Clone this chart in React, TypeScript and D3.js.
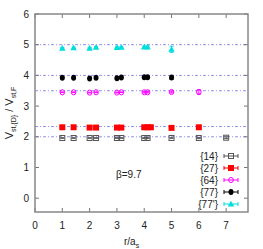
import React from "react";
import * as d3 from "d3";

const xTicks = [0, 1, 2, 3, 4, 5, 6, 7];
const yTicks = [0, 1, 2, 3, 4, 5, 6];
const casimirLines = [2, 7 / 3, 3.5, 4, 5];

const x14 = [1, 1.414, 2, 2.236, 3, 3.162, 4, 4.123, 5, 6, 7];
const y14 = [1.96, 1.96, 1.96, 1.96, 1.96, 1.96, 1.96, 1.96, 1.96, 1.96, 1.97];
const e14 = [0.01, 0.01, 0.01, 0.01, 0.01, 0.01, 0.01, 0.01, 0.01, 0.02, 0.03];

const x27 = [1, 1.414, 2, 2.236, 3, 3.162, 4, 4.123, 4.243, 5, 6];
const y27 = [2.31, 2.31, 2.30, 2.30, 2.30, 2.30, 2.31, 2.31, 2.31, 2.29, 2.31];
const e27 = [0.01, 0.01, 0.01, 0.01, 0.01, 0.01, 0.01, 0.01, 0.01, 0.02, 0.03];

const x64 = [1, 1.414, 2, 2.236, 3, 3.162, 4, 4.123, 5, 6];
const y64 = [3.45, 3.45, 3.44, 3.45, 3.44, 3.45, 3.45, 3.45, 3.46, 3.46];
const e64 = [0.01, 0.01, 0.01, 0.01, 0.01, 0.01, 0.02, 0.02, 0.03, 0.07];

const x77 = [1, 1.414, 2, 2.236, 3, 3.162, 4, 4.123, 5];
const y77 = [3.92, 3.92, 3.9, 3.92, 3.91, 3.93, 3.94, 3.94, 3.93];
const e77 = [0.01, 0.01, 0.01, 0.01, 0.01, 0.01, 0.02, 0.02, 0.06];

const x77p = [1, 1.414, 2, 2.236, 3, 3.162, 4, 4.123, 5];
const y77p = [4.89, 4.9, 4.89, 4.92, 4.91, 4.92, 4.93, 4.93, 4.85];
const e77p = [0.02, 0.02, 0.02, 0.02, 0.02, 0.02, 0.03, 0.03, 0.1];

const seriesNames = ["{14}", "{27}", "{64}", "{77}", "{77'}"];
const seriesColors = ["#555555", "#ff0000", "#ff00ff", "#000000", "#00dddd"];
const seriesShapes = ["osquare", "fsquare", "ocircle", "fcircle", "ftriangle"];

const W = 263, H = 249;
const L = 35, R = 248, T = 14, B = 212;

function Marker({ shape, color, cx, cy }: { shape: string; color: string; cx: number; cy: number }) {
  if (shape === "osquare")
    return <rect x={cx - 2.5} y={cy - 2.5} width={5} height={5} fill="none" stroke={color} strokeWidth={1} />;
  if (shape === "fsquare")
    return <rect x={cx - 3} y={cy - 3} width={6} height={6} fill={color} />;
  if (shape === "ocircle")
    return <ellipse cx={cx} cy={cy} rx={2.3} ry={2.6} fill="none" stroke={color} strokeWidth={1} />;
  if (shape === "fcircle")
    return <ellipse cx={cx} cy={cy} rx={2.5} ry={3} fill={color} />;
  const s = 3.2;
  return <path d={`M${cx},${cy - s} L${cx + s},${cy + s * 0.8} L${cx - s},${cy + s * 0.8} Z`} fill={color} />;
}

export default function App() {
  const xs = d3.scaleLinear().domain([0, 7.8]).range([L, R]);
  const ys = d3.scaleLinear().domain([-0.45, 6]).range([B, T]);
  const all = [
    { x: x14, y: y14, e: e14 },
    { x: x27, y: y27, e: e27 },
    { x: x64, y: y64, e: e64 },
    { x: x77, y: y77, e: e77 },
    { x: x77p, y: y77p, e: e77p },
  ];
  const font = "'Liberation Sans', Arial, sans-serif";
  return (
    <svg width={W} height={H} style={{ position: "absolute", left: 0, top: 0 }} fontFamily={font}>
      <rect width={W} height={H} fill="white" />
      {casimirLines.map((v, i) => (
        <line key={i} x1={L} x2={R} y1={ys(v)} y2={ys(v)} stroke="#9090ee" strokeWidth={1} strokeDasharray="3,2,1,2" />
      ))}
      {/* ticks */}
      {xTicks.map((t) => (
        <g key={"x" + t}>
          <line x1={xs(t)} x2={xs(t)} y1={B} y2={B - 4} stroke="#777" />
          <line x1={xs(t)} x2={xs(t)} y1={T} y2={T + 4} stroke="#777" />
          <text x={xs(t)} y={B + 17} textAnchor="middle" fontSize={10} fill="#222">{t}</text>
        </g>
      ))}
      {yTicks.map((t) => (
        <g key={"y" + t}>
          <line x1={L} x2={L + 4} y1={ys(t)} y2={ys(t)} stroke="#777" />
          <line x1={R} x2={R - 4} y1={ys(t)} y2={ys(t)} stroke="#777" />
          <text x={L - 6} y={ys(t) + 3.5} textAnchor="end" fontSize={10} fill="#222">{t}</text>
        </g>
      ))}
      {/* data */}
      {all.map((s, si) =>
        s.x.map((xv, i) => {
          const cx = xs(xv), cy = ys(s.y[i]);
          const y1 = ys(s.y[i] + s.e[i]), y2 = ys(s.y[i] - s.e[i]);
          return (
            <g key={si + "-" + i}>
              <line x1={cx} x2={cx} y1={y1} y2={y2} stroke={seriesColors[si]} strokeWidth={1} />
              <line x1={cx - 2} x2={cx + 2} y1={y1} y2={y1} stroke={seriesColors[si]} strokeWidth={1} />
              <line x1={cx - 2} x2={cx + 2} y1={y2} y2={y2} stroke={seriesColors[si]} strokeWidth={1} />
              <Marker shape={seriesShapes[si]} color={seriesColors[si]} cx={cx} cy={cy} />
            </g>
          );
        })
      )}
      {/* legend */}
      {seriesNames.map((n, i) => {
        const ly = 156 + i * 12;
        return (
          <g key={n}>
            <text x={218} y={ly + 4} textAnchor="end" fontSize={10} fill="#222">{n}</text>
            <line x1={224} x2={238} y1={ly} y2={ly} stroke={seriesColors[i]} strokeWidth={1} />
            <line x1={224} x2={224} y1={ly - 2} y2={ly + 2} stroke={seriesColors[i]} strokeWidth={1} />
            <line x1={238} x2={238} y1={ly - 2} y2={ly + 2} stroke={seriesColors[i]} strokeWidth={1} />
            <Marker shape={seriesShapes[i]} color={seriesColors[i]} cx={231} cy={ly} />
          </g>
        );
      })}
      <text x={116} y={178} fontSize={10} fill="#222">β=9.7</text>
      {/* frame */}
      <rect x={L} y={T} width={R - L} height={B - T} fill="none" stroke="#888" strokeWidth={1.5} />
      {/* axis labels */}
      <text x={124} y={245} fontSize={10} fill="#222">
        r/a<tspan fontSize={7} dy={3}>s</tspan>
      </text>
      <text transform={`translate(13,${(T + B) / 2}) rotate(-90)`} textAnchor="middle" fontSize={11} fill="#222">
        V<tspan fontSize={7} dy={3}>st,{"{D}"}</tspan>
        <tspan dy={-3}> / V</tspan>
        <tspan fontSize={7} dy={3}>st,F</tspan>
      </text>
    </svg>
  );
}
